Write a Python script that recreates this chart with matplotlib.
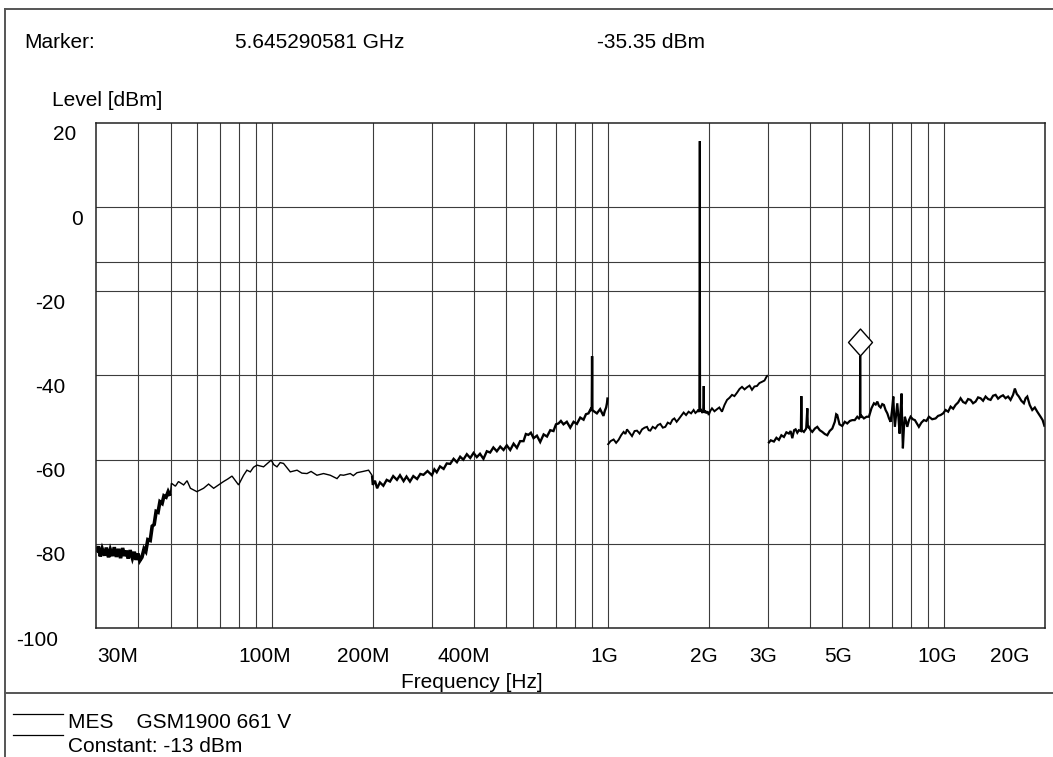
#====================================
# Import

import matplotlib
matplotlib.use("Agg")
import matplotlib.pyplot as plt
import matplotlib.transforms as mtrans
from matplotlib.lines import Line2D
from matplotlib.path import Path

#====================================
# Data (frequency in MHz, level in dBm)

# 30 MHz - 50 MHz, thick noisy band then the rise
freqBand = [30.06, 30.5, 30.9, 31.3, 31.8, 32.2, 32.7, 33.1, 33.6, 34.0, 34.5, 35.0, 35.5, 36.0,
            36.5, 36.9, 37.4, 37.9, 38.5, 39.0, 39.5, 40.0, 40.5, 41.1, 41.7, 42.2, 42.8, 43.5,
            44.1, 44.7, 45.3, 45.9, 46.5, 47.2, 47.8, 48.5, 49.2, 49.9]
levelBand = [-82.0, -80.6, -83.0, -81.2, -82.8, -80.9, -83.2, -81.4, -82.9, -80.8, -83.1, -81.2,
             -83.4, -81.0, -82.9, -81.6, -83.5, -81.5, -83.4, -81.9, -83.8, -82.3, -84.0, -83.2,
             -81.2, -81.8, -79.0, -79.2, -75.8, -75.4, -72.3, -72.5, -70.0, -70.4, -68.6, -68.9,
             -67.6, -68.6]

# 50 MHz - 200 MHz, thin trace
freqThin = [50.3, 51.7, 52.8, 54.7, 56.0, 57.3, 59.9, 62.7, 64.9, 67.2, 69.5, 71.9, 74.0, 76.2,
            79.7, 82.5, 84.4, 86.4, 88.3, 90.4, 94.6, 99.7, 101.5, 103.7, 106.0, 108.5, 113.6,
            119.0, 123.0, 127.4, 131.0, 136.4, 142.7, 149.4, 156.5, 160.0, 163.7, 171.4, 175.0,
            179.4, 187.0, 194.3, 198.9]
levelThin = [-65.6, -66.3, -65.2, -66.0, -65.0, -66.8, -67.6, -66.8, -65.8, -66.8, -66.0, -65.2,
             -64.6, -63.9, -66.0, -63.7, -62.5, -62.9, -61.8, -61.3, -61.7, -60.1, -61.2, -61.7,
             -60.7, -60.9, -62.9, -62.5, -63.2, -63.3, -62.8, -63.7, -63.3, -63.7, -64.5, -63.6,
             -63.7, -63.3, -63.8, -63.1, -62.8, -62.5, -63.7]

# 200 MHz - 1 GHz
freqDense = [200, 203, 206, 210, 215, 220, 225, 230, 236, 241, 247, 252, 258, 264, 271, 277, 283,
             291, 300, 305, 310, 317, 325, 332, 340, 348, 356, 364, 372, 381, 390, 399, 408, 417,
             427, 437, 447, 457, 468, 479, 490, 501, 513, 525, 537, 549, 562, 571, 581, 591, 602,
             616, 630, 645, 660, 675, 690, 702, 714, 726, 739, 756, 774, 792, 810, 829, 848, 862,
             877, 890, 897, 899, 901, 910, 929, 950, 972, 981, 990, 996, 1000]
levelDense = [-66.0, -65.0, -66.8, -65.4, -66.2, -64.8, -65.2, -63.9, -64.8, -63.7, -65.1, -64.0,
              -65.2, -63.9, -64.6, -63.4, -63.6, -62.7, -63.7, -62.3, -63.0, -61.6, -62.2, -60.9,
              -61.0, -59.8, -60.6, -59.3, -60.0, -58.7, -59.6, -58.4, -59.4, -58.6, -59.8, -58.0,
              -58.3, -57.1, -58.0, -56.9, -57.7, -56.6, -57.7, -56.2, -57.2, -55.6, -55.6, -53.9,
              -54.1, -53.6, -54.9, -54.3, -55.8, -54.0, -54.5, -53.0, -53.2, -51.6, -51.4, -50.8,
              -51.6, -51.0, -52.4, -51.0, -51.5, -50.0, -50.5, -49.2, -49.0, -48.0, -48.4, -35.4,
              -48.2, -48.5, -49.0, -48.0, -49.6, -48.4, -47.6, -46.5, -45.2]

# 1 GHz - 3 GHz
freqMid = [1000, 1020, 1042, 1060, 1078, 1097, 1116, 1130, 1142, 1162, 1182, 1203, 1223, 1245,
           1266, 1288, 1310, 1325, 1340, 1362, 1387, 1410, 1435, 1460, 1485, 1510, 1537, 1560,
           1580, 1605, 1627, 1655, 1684, 1712, 1742, 1772, 1803, 1825, 1845, 1862, 1874, 1880,
           1886, 1897, 1912, 1924, 1931, 1938, 1952, 1967, 1985, 1999, 2022, 2045, 2080, 2117,
           2150, 2190, 2228, 2267, 2305, 2346, 2385, 2427, 2470, 2512, 2556, 2600, 2645, 2690,
           2736, 2783, 2830, 2881, 2930, 2981, 3000]
levelMid = [-56.5, -55.6, -55.2, -56.0, -55.3, -54.2, -53.4, -53.9, -52.8, -53.6, -54.4, -53.2,
            -53.1, -53.8, -52.8, -52.4, -52.2, -53.0, -53.1, -52.2, -52.6, -51.8, -51.5, -52.4,
            -52.2, -51.2, -51.5, -50.5, -50.2, -51.0, -50.4, -49.6, -48.8, -49.4, -48.6, -49.0,
            -48.2, -48.9, -48.6, -48.1, -48.7, 15.7, -48.4, -48.2, -48.9, -48.4, -42.5, -48.9,
            -48.3, -49.0, -48.5, -49.4, -48.4, -47.8, -48.5, -48.0, -47.6, -48.6, -47.0, -45.8,
            -45.3, -44.6, -44.9, -44.1, -43.2, -42.7, -43.3, -42.8, -42.4, -43.4, -42.6, -42.5,
            -41.8, -41.5, -41.2, -40.1, -40.0]

# 3 GHz - 20 GHz
freqHigh = [3007, 3060, 3126, 3180, 3235, 3290, 3348, 3405, 3464, 3505, 3546, 3590, 3627, 3670,
            3710, 3760, 3772, 3784, 3839, 3900, 3931, 3945, 3973, 4020, 4067, 4140, 4208, 4280,
            4355, 4430, 4507, 4580, 4664, 4745, 4790, 4826, 4900, 4994, 5080, 5168, 5260, 5348,
            5440, 5535, 5600, 5640, 5645, 5652, 5700, 5793, 5900, 5996, 6100, 6205, 6280, 6351,
            6420, 6496, 6570, 6644, 6720, 6802, 6880, 6956, 7020, 7086, 7120, 7163, 7220, 7282,
            7340, 7398, 7450, 7499, 7530, 7567, 7620, 7670, 7740, 7799, 7890, 7977, 8100, 8215,
            8330, 8443, 8590, 8738, 8890, 9043, 9250, 9468, 9630, 9798, 9970, 10140, 10320,
            10494, 10680, 10857, 11050, 11236, 11430, 11628, 11830, 12034, 12240, 12454, 12670,
            12886, 13110, 13336, 13570, 13801, 14040, 14283, 14530, 14781, 15030, 15293, 15560,
            15827, 16100, 16300, 16520, 16754, 17040, 17339, 17550, 17747, 18050, 18366, 18690,
            19007, 19230, 19441, 19720, 20000]
levelHigh = [-56.1, -55.4, -55.7, -54.8, -55.3, -54.2, -54.6, -53.5, -53.8, -53.2, -54.9, -53.0,
             -52.8, -53.6, -53.0, -53.2, -44.9, -53.0, -53.4, -52.6, -47.8, -52.4, -52.2, -53.0,
             -53.4, -52.6, -52.2, -53.0, -53.4, -53.9, -54.2, -53.2, -52.6, -51.0, -49.2, -49.4,
             -51.6, -52.0, -51.0, -51.4, -50.8, -50.6, -50.6, -49.8, -50.2, -49.8, -35.35, -50.0,
             -49.6, -50.2, -49.8, -49.8, -47.8, -46.6, -46.9, -46.2, -47.2, -47.6, -46.8, -47.0,
             -48.2, -49.0, -50.2, -51.0, -48.4, -45.0, -49.0, -52.2, -49.4, -46.6, -50.0, -53.8,
             -48.2, -44.3, -51.6, -57.3, -52.5, -49.8, -51.0, -52.2, -50.6, -49.8, -50.4, -50.6,
             -51.4, -52.2, -51.2, -50.6, -50.8, -49.8, -50.4, -50.2, -49.6, -49.4, -49.0, -48.2,
             -48.6, -47.4, -47.9, -47.0, -46.4, -45.4, -46.3, -46.6, -45.6, -45.8, -46.6, -46.2,
             -45.2, -45.4, -46.0, -45.0, -45.6, -45.8, -44.8, -44.6, -45.5, -45.0, -44.7, -45.4,
             -45.0, -45.8, -44.6, -43.1, -44.4, -45.0, -46.0, -46.6, -45.4, -45.0, -47.0, -48.2,
             -47.6, -48.6, -49.2, -49.8, -50.6, -52.2]

# marker
markerFreq = 5645.290581
markerLevel = -35.35

# limit line
limitLevel = -13

# grid and labels
gridFreqs = [40, 50, 60, 70, 80, 90, 100, 200, 300, 400, 500, 600, 700, 800, 900,
             1000, 2000, 3000, 4000, 5000, 6000, 7000, 8000, 9000, 10000]
gridLevels = [-80, -60, -40, -20, 0]
xLabels = ["30M", "100M", "200M", "400M", "1G", "2G", "3G", "5G", "10G", "20G"]
xLabelPos = [34.7, 95.1, 186.7, 374, 974, 1932, 2904, 4857, 9570, 15780]
yLabels = ["20", "0", "-20", "-40", "-60", "-80", "-100"]
yLabelVal = [20, 0, -20, -40, -60, -80, -100]

#====================================
# Layout

W, H = 1053, 757
FONT = "Liberation Sans"
FS = 15
# centre x (pixels) of each y label, the originals are not aligned
yLabelX = [64.5, 76.5, 50, 50, 50, 50, 37.5]

def px(x, y):
    return (x / W, 1 - y / H)

plt.rcParams['font.family'] = [FONT, 'DejaVu Sans']

fig = plt.figure(figsize=(W / 100, H / 100), dpi=100)
ax = fig.add_axes([96 / W, 1 - 628 / H, (1044.7 - 96) / W, (628 - 123) / H])

ax.set_xscale('log')
ax.set_xlim(30, 20000)
ax.set_ylim(-100, 20)
ax.set_xticks(gridFreqs)
ax.xaxis.set_minor_locator(matplotlib.ticker.NullLocator())
ax.set_yticks(gridLevels)
ax.tick_params(which='both', length=0, labelbottom=False, labelleft=False)
ax.grid(True, color='#3c3c3c', lw=0.8)
ax.axhline(limitLevel, color='#3c3c3c', lw=0.8)
for s in ax.spines.values():
    s.set_color('#222222')
    s.set_linewidth(1.1)

#====================================
# Trace

def trace(f, l, w):
    ax.plot(f, l, color='black', lw=w, solid_joinstyle='miter', solid_capstyle='butt')

# the trace looks thicker where the noise is dense
# 30M - 1G is one sweep, each piece starts from the last point of the previous one
trace(freqBand, levelBand, 2.6)
trace(freqBand[-1:] + freqThin, levelBand[-1:] + levelThin, 1.0)
trace(freqThin[-1:] + freqDense, levelThin[-1:] + levelDense, 1.7)
# open jumps at 1 GHz and 3 GHz
trace(freqMid, levelMid, 1.4)
trace(freqHigh, levelHigh, 1.6)

# diamond sitting on top of the marker peak
diamond = Path([(0, 1), (0.89, 0), (0, -1), (-0.89, 0), (0, 1)],
               [Path.MOVETO, Path.LINETO, Path.LINETO, Path.LINETO, Path.CLOSEPOLY])
lift = mtrans.ScaledTranslation(0, 13.5 / 100, fig.dpi_scale_trans)
ax.plot([markerFreq], [markerLevel], marker=diamond, markersize=19.4, mfc='white',
        mec='black', mew=1.0, ls='none', transform=ax.transData + lift, clip_on=False)

#====================================
# Texts

down = mtrans.ScaledTranslation(0, -12 / 100, fig.dpi_scale_trans)
yTrans = mtrans.blended_transform_factory(fig.transFigure, ax.transData) + down
for lab, v, xp in zip(yLabels, yLabelVal, yLabelX):
    fig.text(xp / W, v, lab, transform=yTrans, ha='center', va='center', fontsize=FS)

xTrans = mtrans.blended_transform_factory(ax.transData, fig.transFigure)
for lab, fx in zip(xLabels, xLabelPos):
    ax.text(fx, 1 - 656 / H, lab, transform=xTrans, ha='center', va='center', fontsize=FS)

fig.text(*px(471.5, 682), "Frequency [Hz]", ha='center', va='center', fontsize=FS)
fig.text(*px(52, 100), "Level [dBm]", ha='left', va='center', fontsize=FS)

fig.text(*px(24, 43), "Marker:", ha='left', va='center', fontsize=FS)
fig.text(*px(235, 43), "%.9f GHz" % (markerFreq / 1000), ha='left', va='center', fontsize=FS)
fig.text(*px(704.7, 43), "%.2f dBm" % markerLevel, ha='right', va='center', fontsize=FS)

# legend at the bottom
fig.add_artist(Line2D([12.7 / W, 63.3 / W], [1 - 714 / H] * 2, color='black', lw=0.9))
fig.add_artist(Line2D([12.7 / W, 63.3 / W], [1 - 735 / H] * 2, color='black', lw=0.9))
fig.text(*px(68, 723), "MES    GSM1900 661 V", ha='left', va='center', fontsize=FS)
fig.text(*px(68, 746), "Constant: %d dBm" % limitLevel, ha='left', va='center', fontsize=FS)

#====================================
# Frame

frameCol = '#555555'
fig.add_artist(Line2D([5.3 / W, 5.3 / W], [1 - 9.3 / H, 0], color=frameCol, lw=1.4))
fig.add_artist(Line2D([5.3 / W, 1], [1 - 9.3 / H] * 2, color=frameCol, lw=1.4))
fig.add_artist(Line2D([5.3 / W, 1], [1 - 693 / H] * 2, color=frameCol, lw=1.4))

fig.savefig("out.png", dpi=100)
